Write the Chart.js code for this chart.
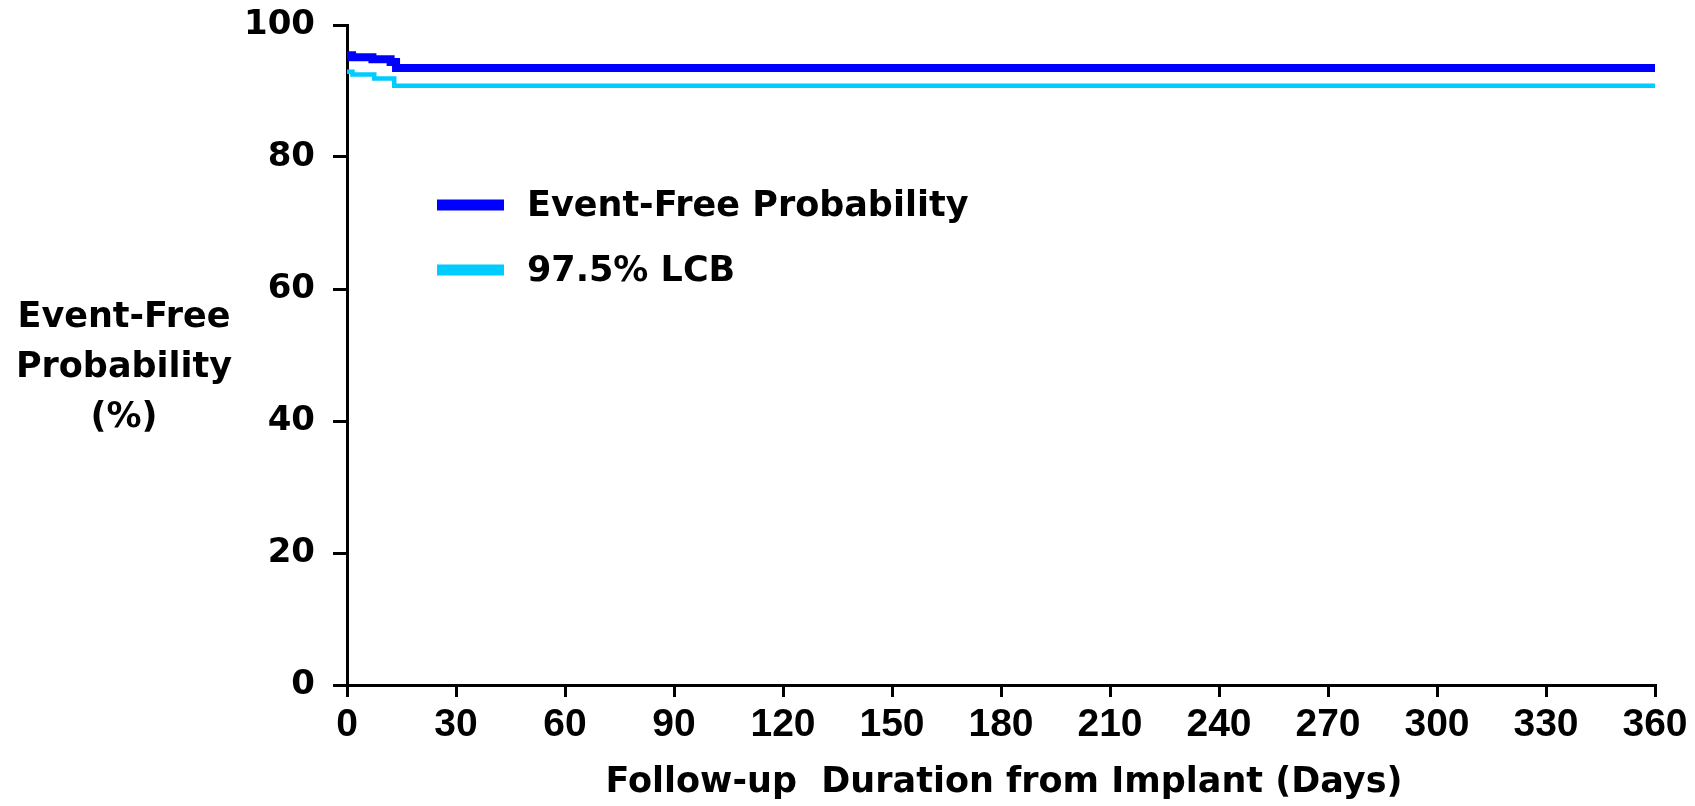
<!DOCTYPE html>
<html>
<head>
<meta charset="utf-8">
<script src="https://cdn.jsdelivr.net/npm/chart.js@4.4.0/dist/chart.umd.min.js"></script>
<style>
    body { margin: 0; background: #fff; }
    #wrap { width: 1695px; height: 806px; position: relative; }
</style>
</head>
<body>
<div id="wrap"><canvas id="km"></canvas></div>
<script>
// datos (días, %)
const diasEvento = [0, 1.4, 7, 12, 13.5, 360];
const probEvento = [95.4, 95.1, 94.8, 94.4, 93.5, 93.5];
const diasLcb = [0, 1.5, 7.5, 13, 360];
const probLcb = [92.9, 92.5, 91.9, 90.8, 90.8];
const etiquetas = ['Event-Free Probability', '97.5% LCB'];
const colores = ['#0000FF', '#00CCFF'];
const tituloY = ['Event-Free', 'Probability', '(%)'];
const tituloX = 'Follow-up  Duration from Implant (Days)';

const BOLD = "'DejaVu Sans', sans-serif";

/**
 * Pasar dos arreglos a puntos {x, y}
 */
const puntos = (x, y) => x.map((d, i) => ({ x: d, y: y[i] }));

/**
 * Plugin para dibujar la leyenda y los títulos de los ejes en horizontal
 */
const textos = {
    id: 'textos',
    afterDraw(chart) {
        const ctx = chart.ctx;
        const area = chart.chartArea;
        ctx.save();
        ctx.fillStyle = '#000';
        // leyenda
        ctx.font = 'bold 35px ' + BOLD;
        ctx.textAlign = 'left';
        ctx.textBaseline = 'middle';
        etiquetas.forEach((txt, i) => {
            const y = 205 + i * 65;
            ctx.strokeStyle = colores[i];
            ctx.lineWidth = 11;
            ctx.beginPath();
            ctx.moveTo(437, y);
            ctx.lineTo(504, y);
            ctx.stroke();
            ctx.fillText(txt, 527, y + 2);
        });
        // título eje y
        ctx.textAlign = 'center';
        tituloY.forEach((txt, i) => {
            ctx.fillText(txt, 124, 318 + i * 50);
        });
        // título eje x
        ctx.font = 'bold 35px ' + BOLD;
        ctx.fillText(tituloX, (area.left + area.right) / 2 + 3, 783);
        ctx.restore();
    }
};

// quitar el relleno extra que agrega chart.js por las etiquetas
const sinRelleno = (s) => {
    s.paddingTop = 0;
    s.paddingBottom = 0;
    s.paddingLeft = 0;
    s.paddingRight = 0;
};

const element = document.getElementById('km').getContext('2d');
const graph = new Chart(element, {
    type: 'line',
    data: {
        datasets: [{
            label: etiquetas[0],
            data: puntos(diasEvento, probEvento),
            borderColor: colores[0],
            borderWidth: 8,
            stepped: true,
            pointRadius: 0
        }, {
            label: etiquetas[1],
            data: puntos(diasLcb, probLcb),
            borderColor: colores[1],
            borderWidth: 4.5,
            stepped: true,
            pointRadius: 0
        }]
    },
    options: {
        responsive: true,
        maintainAspectRatio: false,
        animation: false,
        layout: { padding: { left: 247, top: 25, right: 40, bottom: 0 } },
        plugins: {
            legend: { display: false },
            tooltip: { enabled: false }
        },
        scales: {
            x: {
                type: 'linear',
                min: 0,
                max: 360,
                afterFit: (s) => { s.height = 121; sinRelleno(s); },
                border: { color: '#000', width: 3 },
                grid: { drawOnChartArea: false, color: '#000', lineWidth: 3, tickLength: 12 },
                ticks: {
                    stepSize: 30,
                    color: '#000',
                    padding: 5,
                    maxRotation: 0,
                    font: { family: "'Liberation Sans Narrow', 'Arial Narrow', 'Liberation Sans', sans-serif", size: 39, weight: 'bold' }
                }
            },
            y: {
                min: 0,
                max: 100,
                afterFit: (s) => { s.width = 100; sinRelleno(s); },
                border: { color: '#000', width: 3 },
                grid: { drawOnChartArea: false, color: '#000', lineWidth: 3, tickLength: 14 },
                ticks: {
                    stepSize: 20,
                    color: '#000',
                    padding: 18,
                    font: { family: BOLD, size: 34, weight: 'bold' }
                }
            }
        }
    },
    plugins: [textos]
});
</script>
</body>
</html>
